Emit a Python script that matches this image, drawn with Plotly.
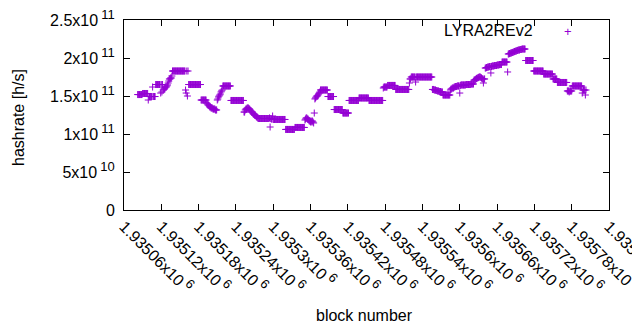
import plotly.graph_objects as go

# ---- data: one hashrate value per block ----
FIRST_BLOCK = 1935082

hashrate_ghs = [
    # 82-98
    151.9, 151.9, 151.9, 151.9, 151.9, 151.9, 151.9, 151.9,
    153.3, 153.3, 153.3, 153.3, 153.3, 153.3, 153.3, 153.3, 153.3,
    # 99-110
    144.7, 149.3, 149.3, 149.3, 149.3, 149.3, 149.3, 161.8, 149.3, 149.3, 149.3, 149.3,
    # 111-118
    165.1, 165.1, 165.1, 165.1, 165.1, 165.1, 165.1, 165.1,
    # 119-137
    153.9, 165.1, 155.3, 165.1, 157.9, 159.2, 159.2, 160.5, 161.8, 161.8,
    163.2, 164.5, 167.1, 169.7, 172.4, 172.4, 173.7, 173.7, 176.3,
    # 138-158
    182.9, 182.9, 182.9, 182.9, 182.9, 182.9, 182.9, 182.9, 182.9, 182.9, 182.9,
    182.9, 182.9, 182.9, 182.9, 182.9, 182.9, 182.9, 182.9, 182.9, 182.9,
    # 159-163
    157.9, 153.9, 182.9, 150.0, 182.9,
    # 164-183
    165.1, 165.1, 165.1, 165.1, 165.1, 165.1, 165.1, 165.1, 165.1, 165.1,
    165.1, 165.1, 165.1, 165.1, 165.1, 165.1, 165.1, 165.1, 165.1, 165.1,
    # 184-192
    144.7, 144.7, 144.7, 144.7, 144.7, 144.7, 144.7, 144.7, 144.7,
    # 193-209
    140.8, 139.5, 138.2, 138.2, 136.8, 135.5, 135.5, 134.2, 134.2, 134.2,
    132.9, 132.9, 132.9, 132.9, 131.6, 131.6, 131.6,
    # 210
    144.7,
    # 211-218
    146.1, 148.7, 150.0, 151.3, 152.6, 155.3, 156.6, 157.9,
    # 219-231
    163.2, 163.2, 163.2, 163.2, 163.2, 163.2, 163.2, 163.2, 163.2, 163.2, 163.2, 163.2, 163.2,
    # 232-252
    144.1, 144.1, 144.1, 144.1, 144.1, 144.1, 144.1, 144.1, 144.1, 144.1, 144.1,
    144.1, 144.1, 144.1, 144.1, 144.1, 144.1, 144.1, 144.1, 144.1, 144.1,
    # 253-275
    128.9, 128.9, 131.6, 132.9, 132.9, 134.2, 134.2, 134.2, 132.9, 132.9, 131.6, 130.3,
    128.9, 128.9, 127.6, 126.3, 126.3, 125.0, 125.0, 123.7, 122.4, 122.4, 121.1,
    # 276-294
    120.4, 120.4, 120.4, 120.4, 120.4, 120.4, 120.4, 120.4, 120.4,
    120.4, 120.4, 120.4, 120.4, 120.4, 120.4, 120.4, 120.4, 120.4, 121.1,
    # 295-299
    109.2, 120.4, 119.7, 119.7, 123.7,
    # 300-319
    119.1, 119.1, 119.1, 119.1, 119.1, 119.1, 119.1, 119.1, 119.1, 119.1,
    119.1, 119.1, 119.1, 119.1, 119.1, 119.1, 119.1, 119.1, 119.1, 119.1,
    # 320-334
    106.0, 106.0, 106.0, 106.0, 106.0, 106.0, 106.0, 106.0, 106.0, 106.0,
    106.0, 106.0, 106.0, 106.0, 106.0,
    # 335-350
    108.6, 108.6, 108.6, 108.6, 108.6, 108.6, 108.6, 108.6,
    108.6, 108.6, 108.6, 108.6, 108.6, 108.6, 108.6, 108.6,
    # 351-365
    118.4, 119.7, 121.1, 121.1, 119.7, 119.7, 118.4, 117.1, 117.1, 115.8,
    117.1, 115.8, 117.1, 115.8, 114.5,
    # 366
    127.6,
    # 367-375
    146.1, 147.4, 148.7, 150.0, 150.0, 151.3, 152.6, 153.9, 155.3,
    # 376-387
    157.9, 157.9, 157.9, 157.9, 157.9, 157.9, 157.9, 157.9, 157.9, 157.9, 157.9, 157.9,
    # 388-397
    149.3, 149.3, 149.3, 149.3, 149.3, 149.3, 149.3, 149.3, 149.3, 149.3,
    # 398-411
    132.2, 132.2, 132.2, 132.2, 132.2, 132.2, 132.2, 132.2, 132.2, 132.2, 132.2, 132.2, 132.2, 132.2,
    # 412-421
    127.6, 127.6, 127.6, 127.6, 127.6, 127.6, 127.6, 127.6, 127.6, 127.6,
    # 422-437
    144.1, 144.1, 144.1, 144.1, 144.1, 144.1, 144.1, 144.1,
    144.1, 144.1, 144.1, 144.1, 144.1, 144.1, 144.1, 144.1,
    # 438-453
    147.4, 147.4, 147.4, 147.4, 147.4, 147.4, 147.4, 147.4,
    147.4, 147.4, 147.4, 147.4, 147.4, 147.4, 147.4, 147.4,
    # 454-476
    144.1, 144.1, 144.1, 144.1, 144.1, 144.1, 144.1, 144.1, 144.1, 144.1, 144.1, 144.1,
    144.1, 144.1, 144.1, 144.1, 144.1, 144.1, 144.1, 144.1, 144.1, 144.1, 144.1,
    # 477
    160.5,
    # 478-496
    161.8, 161.8, 161.8, 161.8, 161.8, 161.8,
    163.9, 163.9, 163.9, 163.9, 163.9, 163.9, 163.9, 163.9, 163.9, 163.9, 163.9, 163.9, 163.9,
    # 497-518
    158.6, 158.6, 158.6, 158.6, 158.6, 158.6, 158.6, 158.6, 158.6, 158.6, 158.6,
    158.6, 158.6, 158.6, 158.6, 158.6, 158.6, 158.6, 158.6, 158.6, 158.6, 158.6,
    # 519-521
    167.1, 172.4, 172.4,
    # 522-555
    175.0, 175.0, 175.0, 175.0, 175.0, 175.0, 175.0, 168.4,
    175.0, 175.0, 175.0, 175.0, 175.0, 175.0, 175.0, 175.0, 175.0, 175.0, 175.0, 175.0, 175.0,
    175.0, 175.0, 175.0, 175.0, 175.0, 175.0, 175.0, 175.0, 175.0, 175.0, 175.0, 175.0, 175.0,
    # 556-572
    158.6, 158.6, 158.6, 157.9, 157.9, 157.9, 157.2, 157.2, 156.6, 156.6, 156.6,
    155.9, 155.9, 155.9, 155.3, 155.3, 155.3,
    # 573-584
    151.3, 151.3, 151.3, 151.3, 151.3, 151.3, 151.3, 151.3, 151.3, 151.3, 151.3, 151.3,
    # 585-593
    157.9, 159.2, 159.2, 160.5, 160.5, 160.5, 161.8, 161.8, 162.5,
    # 594-622
    162.5, 162.5, 163.2, 163.2, 163.2, 163.2, 153.9, 163.9,
    164.5, 164.5, 164.5, 164.5, 164.5, 164.5, 164.5, 164.5,
    165.1, 165.1, 165.1, 165.1, 165.1, 165.1, 165.1, 165.1,
    165.8, 165.8, 165.8, 165.8, 165.8,
    # 623-640
    171.0, 171.0, 171.7, 172.4, 173.0, 173.7, 173.7, 174.3, 175.0,
    175.0, 175.0, 174.3, 173.7, 173.0, 172.4, 167.1, 172.4, 172.4,
    # 641-667
    186.8, 186.8, 187.5, 187.5, 188.2, 188.2, 188.2, 188.8, 188.8, 180.3,
    188.8, 189.5, 189.5, 189.5, 189.5, 190.1, 190.1, 190.1, 190.1,
    190.8, 190.8, 190.8, 190.8, 191.4, 191.4, 191.4, 191.4,
    # 668-676
    194.7, 194.7, 194.7, 194.7, 194.7, 194.7, 194.7, 194.7, 194.7,
    # 677
    181.6,
    # 678-705
    205.3, 205.3, 205.9, 205.9, 206.6, 206.6, 207.2, 207.2, 207.9, 207.9,
    208.6, 208.6, 209.2, 209.2, 209.9, 209.9, 210.5, 210.5, 210.5,
    211.2, 211.2, 211.2, 211.8, 211.8, 211.8, 211.8, 211.8, 211.8,
    # 706-718
    196.7, 196.7, 196.7, 196.7, 196.7, 196.7, 196.7, 196.7, 196.7, 196.7, 196.7, 196.7, 196.7,
    # 719-734
    182.9, 182.9, 182.9, 182.9, 182.9, 182.9, 182.9, 182.9,
    182.9, 182.9, 182.9, 182.9, 182.9, 182.9, 182.9, 182.9,
    # 735-749
    178.9, 178.9, 178.9, 178.9, 178.9, 178.9, 178.9, 178.9,
    178.9, 178.9, 178.9, 178.9, 178.9, 178.9, 178.9,
    # 750-756
    172.4, 172.4, 172.4, 172.4, 172.4, 172.4, 172.4,
    # 757-772
    167.8, 167.8, 167.8, 167.8, 167.8, 167.8, 167.8, 167.8,
    167.8, 167.8, 167.8, 167.8, 167.8, 167.8, 167.8, 167.8,
    # 773-780
    156.6, 156.6, 156.6, 155.3, 156.6, 156.6, 156.6, 156.6,
    # 781-796
    163.2, 163.2, 163.2, 163.2, 163.2, 163.2, 163.2, 163.2,
    163.2, 163.2, 163.2, 163.2, 163.2, 163.2, 163.2, 163.2,
    # 797
    153.9,
    # 798-803
    157.9, 157.9, 157.9, 157.9, 151.3, 157.9,
]

block_number = list(range(FIRST_BLOCK, FIRST_BLOCK + len(hashrate_ghs)))
hashrate = [v * 1e9 for v in hashrate_ghs]

series_name = "LYRA2REv2"

x_tickvals = [1935060, 1935120, 1935180, 1935240, 1935300, 1935360, 1935420,
              1935480, 1935540, 1935600, 1935660, 1935720, 1935780, 1935840]
x_mantissas = ["1.93506", "1.93512", "1.93518", "1.93524", "1.9353", "1.93536", "1.93542",
               "1.93548", "1.93554", "1.9356", "1.93566", "1.93572", "1.93578", "1.93584"]
x_exponent = "6"
y_tickvals = [0, 5e10, 1e11, 1.5e11, 2e11, 2.5e11]
y_mantissas = ["0", "5", "1", "1.5", "2", "2.5"]
y_exponents = [None, "10", "11", "11", "11", "11"]

PURPLE = "#9400D3"
FONT = "Liberation Sans, Arial, sans-serif"
FS = 16


def sci(m, e):
    if e is None:
        return m
    return (m + "x10\u2009<sup><span style=\"font-size:13px\">" + e + "</span></sup>")


x_ticktext = [sci(m, x_exponent) for m in x_mantissas]
y_ticktext = [sci(m, e) for m, e in zip(y_mantissas, y_exponents)]

fig = go.Figure()
fig.add_trace(go.Scatter(
    x=block_number, y=hashrate, mode="markers", name=series_name,
    marker=dict(symbol="cross-thin", size=5, color=PURPLE,
                line=dict(color=PURPLE, width=1)),
    showlegend=False,
))

axis_common = dict(
    showline=True, linecolor="black", linewidth=1, mirror="ticks",
    ticks="inside", ticklen=6, tickcolor="black", tickwidth=1,
    showgrid=False, zeroline=False, automargin=False,
    ticklabeloverflow="allow",
    tickfont=dict(family=FONT, size=FS, color="black"),
)

# the page body has an 8px margin, so the figure is sized/offset to compensate:
# plot area lands at x 124..609, y 20..210 in the 640x330 window
fig.update_layout(
    width=632, height=322,
    margin=dict(l=116, r=31, t=12, b=120),
    paper_bgcolor="white", plot_bgcolor="white",
    font=dict(family=FONT, size=FS, color="black"),
    xaxis=dict(range=[1935060, 1935840], tickvals=x_tickvals, ticktext=x_ticktext,
               tickangle=45, **axis_common),
    yaxis=dict(range=[0, 2.5e11], tickvals=y_tickvals, ticktext=y_ticktext,
               ticklabelstandoff=5, **axis_common),
    annotations=[
        dict(text="hashrate [h/s]", textangle=-90, xref="paper", yref="paper",
             x=(18 - 124) / 485, y=(210 - 118) / 190, xanchor="center", yanchor="middle",
             showarrow=False, font=dict(family=FONT, size=FS, color="black")),
        dict(text="block number", xref="paper", yref="paper",
             x=(364 - 124) / 485, y=(210 - 315) / 190, xanchor="center", yanchor="middle",
             showarrow=False, font=dict(family=FONT, size=FS, color="black")),
        dict(text=series_name, xref="paper", yref="paper",
             x=(535 - 124) / 485, y=(210 - 31) / 190, xanchor="right", yanchor="middle",
             showarrow=False, font=dict(family=FONT, size=FS, color="black")),
        dict(text="+", xref="paper", yref="paper",
             x=(568 - 124) / 485, y=(210 - 32) / 190, xanchor="center", yanchor="middle",
             showarrow=False, font=dict(family=FONT, size=13, color=PURPLE)),
    ],
)

fig.write_html("out.html")
